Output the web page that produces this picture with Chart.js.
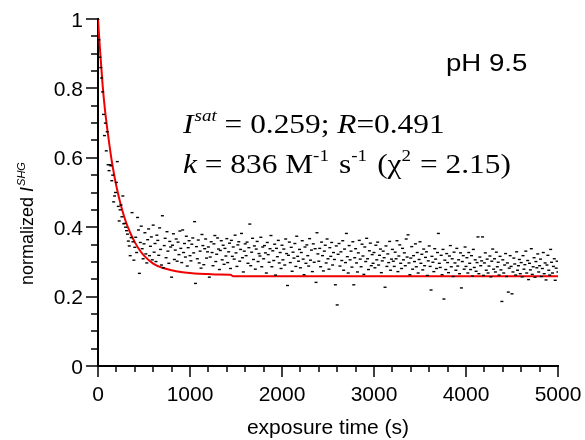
<!DOCTYPE html>
<html>
<head>
<meta charset="utf-8">
<script src="https://cdn.jsdelivr.net/npm/chart.js@4/dist/chart.umd.min.js"></script>
<style>
html,body{margin:0;padding:0;background:#fff;}
#wrap{width:585px;height:440px;position:relative;}
</style>
</head>
<body>
<div id="wrap"><canvas id="c" width="585" height="440"></canvas></div>
<script>
// ---- data ----
const sampleStep = 10; // s between measured points
const signalRows = [
  [1.00,0.94,0.89,0.86,0.83,0.79,0.725,0.664,0.70,0.62,0.675,0.58,0.563,0.58,0.577,0.534,0.55,0.473,0.49,0.50],
  [0.529,0.589,0.46,0.418,0.45,0.464,0.43,0.49,0.41,0.411,0.40,0.39,0.38,0.36,0.346,0.318,0.37,0.442,0.358,0.305],
  [0.342,0.371,0.327,0.428,0.392,0.267,0.356,0.403,0.338,0.309,0.352,0.384,0.323,0.297,0.364,0.395,0.318,0.345,0.372,0.306],
  [0.406,0.328,0.353,0.301,0.377,0.362,0.319,0.398,0.336,0.291,0.433,0.283,0.347,0.368,0.312,0.387,0.331,0.296,0.359,0.343],
  [0.256,0.348,0.381,0.307,0.334,0.366,0.302,0.357,0.321,0.389,0.339,0.298,0.392,0.327,0.353,0.314,0.374,0.288,0.341,0.361],
  [0.318,0.303,0.351,0.369,0.326,0.416,0.238,0.344,0.309,0.363,0.297,0.331,0.282,0.379,0.347,0.292,0.338,0.366,0.311,0.329],
  [0.343,0.256,0.314,0.358,0.327,0.289,0.352,0.376,0.301,0.322,0.369,0.337,0.278,0.333,0.361,0.306,0.348,0.293,0.339,0.317],
  [0.367,0.298,0.329,0.354,0.281,0.362,0.316,0.343,0.308,0.377,0.326,0.287,0.349,0.358,0.302,0.336,0.382,0.312,0.271,0.331],
  [0.352,0.318,0.357,0.296,0.341,0.409,0.289,0.328,0.368,0.307,0.346,0.279,0.337,0.359,0.301,0.324,0.317,0.371,0.286,0.343],
  [0.309,0.347,0.326,0.268,0.356,0.321,0.299,0.338,0.376,0.286,0.332,0.304,0.351,0.262,0.339,0.315,0.362,0.297,0.327,0.281],
  [0.348,0.306,0.337,0.291,0.366,0.324,0.232,0.319,0.357,0.298,0.342,0.273,0.328,0.311,0.353,0.287,0.374,0.316,0.302,0.336],
  [0.283,0.327,0.361,0.308,0.263,0.343,0.296,0.349,0.318,0.288,0.367,0.305,0.334,0.272,0.352,0.299,0.338,0.241,0.384,0.323],
  [0.302,0.339,0.286,0.357,0.318,0.274,0.331,0.348,0.297,0.366,0.309,0.279,0.341,0.316,0.356,0.291,0.327,0.307,0.234,0.346],
  [0.176,0.322,0.353,0.288,0.329,0.304,0.361,0.276,0.337,0.298,0.382,0.315,0.268,0.347,0.306,0.331,0.285,0.358,0.234,0.312],
  [0.338,0.297,0.271,0.326,0.362,0.308,0.286,0.351,0.317,0.264,0.343,0.301,0.368,0.309,0.278,0.332,0.354,0.289,0.321,0.296],
  [0.327,0.283,0.348,0.306,0.357,0.291,0.319,0.337,0.269,0.303,0.331,0.312,0.227,0.346,0.287,0.323,0.298,0.359,0.276,0.308],
  [0.336,0.302,0.287,0.328,0.309,0.361,0.272,0.317,0.349,0.296,0.281,0.339,0.306,0.326,0.289,0.366,0.314,0.378,0.297,0.263],
  [0.311,0.344,0.279,0.318,0.301,0.352,0.286,0.327,0.268,0.307,0.358,0.296,0.322,0.277,0.337,0.289,0.313,0.329,0.261,0.303],
  [0.346,0.287,0.219,0.316,0.299,0.272,0.338,0.308,0.281,0.327,0.382,0.296,0.284,0.319,0.263,0.336,0.193,0.305,0.278,0.324],
  [0.298,0.269,0.317,0.347,0.286,0.309,0.258,0.328,0.297,0.276,0.339,0.288,0.306,0.266,0.326,0.225,0.301,0.318,0.279,0.343],
  [0.287,0.312,0.268,0.327,0.296,0.278,0.318,0.259,0.336,0.284,0.306,0.273,0.298,0.372,0.266,0.314,0.289,0.303,0.372,0.261],
  [0.297,0.326,0.276,0.308,0.268,0.288,0.317,0.257,0.302,0.337,0.279,0.309,0.271,0.328,0.286,0.299,0.262,0.316,0.277,0.186],
  [0.306,0.268,0.291,0.324,0.258,0.297,0.213,0.282,0.318,0.287,0.208,0.271,0.311,0.294,0.262,0.329,0.276,0.289,0.307,0.266],
  [0.298,0.257,0.318,0.279,0.292,0.331,0.268,0.304,0.249,0.296,0.277,0.338,0.264,0.286,0.312,0.256,0.301,0.283,0.323,0.271],
  [0.289,0.308,0.258,0.281,0.327,0.266,0.297,0.248,0.291,0.319,0.276,0.262,0.336,0.299,0.268,0.287,0.309,0.247,0.282,0.302],
  [0.271]
];
const fitTimes  = [0,25,50,75,100,125,150,175,200,250,300,350,400,450,500,600,700,800,900,1000,1100,1200,1300,1440,1470,2000,3000,4000,5000];
const fitValues = [1.0,0.90,0.81,0.74,0.685,0.635,0.59,0.552,0.518,0.462,0.418,0.384,0.357,0.335,0.318,0.295,0.283,0.276,0.271,0.268,0.266,0.265,0.264,0.263,0.259,0.259,0.259,0.259,0.259];
const xMajorTicks = [0,1000,2000,3000,4000,5000];
const xMinorStep = 200;
const yMajorTicks = [0,0.2,0.4,0.6,0.8,1];
const yMinorStep = 0.05;
const xTickLabels = ["0","1000","2000","3000","4000","5000"];
const yTickLabels = ["0","0.2","0.4","0.6","0.8","1"];

// ---- build datasets ----
const signalValues = signalRows.flat();
const signalPoints = signalValues.map((v,i)=>({x:i*sampleStep, y:v}));
const fitPoints = fitTimes.map((t,i)=>({x:t, y:fitValues[i]}));

const SANS = '"Liberation Sans", Arial, sans-serif';
const SERIF = '"Liberation Serif", "Times New Roman", serif';

function drawRuns(ctx, runs, x, y, sx){
  ctx.save();
  ctx.translate(x,y);
  ctx.scale(sx||1,1);
  let cx = 0;
  for(const r of runs){
    ctx.font = r.font;
    ctx.fillText(r.t, cx, r.dy||0);
    cx += ctx.measureText(r.t).width + (r.gap||0);
  }
  ctx.restore();
}

const decor = {
  id:'decor',
  afterDraw(chart){
    const ctx = chart.ctx;
    const xs = chart.scales.x, ys = chart.scales.y;
    const a = chart.chartArea;
    ctx.save();
    ctx.strokeStyle = '#000';
    ctx.fillStyle = '#000';
    ctx.lineWidth = 1.5;
    // x ticks
    for(let v = 0; v <= 5000; v += xMinorStep){
      const px = Math.round(xs.getPixelForValue(v));
      const major = xMajorTicks.includes(v);
      ctx.beginPath();
      ctx.moveTo(px, a.bottom);
      ctx.lineTo(px, a.bottom + (major ? 11 : 6));
      ctx.stroke();
    }
    // y ticks
    for(let k = 0; k <= 20; k++){
      const v = k*yMinorStep;
      const py = Math.round(ys.getPixelForValue(v));
      const major = (k % 4) === 0;
      ctx.beginPath();
      ctx.moveTo(a.left, py);
      ctx.lineTo(a.left - (major ? 12 : 7), py);
      ctx.stroke();
    }
    // tick labels
    ctx.font = '21px ' + SANS;
    ctx.textBaseline = 'alphabetic';
    ctx.textAlign = 'center';
    xMajorTicks.forEach((v,i)=>{
      ctx.fillText(xTickLabels[i], xs.getPixelForValue(v), 401);
    });
    ctx.textAlign = 'right';
    yMajorTicks.forEach((v,i)=>{
      ctx.fillText(yTickLabels[i], a.left - 15, ys.getPixelForValue(v) + 7.5);
    });
    // x title
    ctx.textAlign = 'center';
    ctx.font = '21px ' + SANS;
    ctx.fillText('exposure time (s)', (a.left + a.right)/2, 434);
    // y title (rotated)
    ctx.save();
    ctx.translate(33, 285);
    ctx.rotate(-Math.PI/2);
    ctx.textAlign = 'left';
    drawRuns(ctx, [
      {t:'normalized ', font:'18px ' + SANS},
      {t:'I', font:'italic 18px ' + SANS, gap:1},
      {t:'SHG', font:'italic 11px ' + SANS, dy:-8}
    ], 0, 0, 1);
    ctx.restore();
    // annotations
    ctx.textAlign = 'left';
    drawRuns(ctx, [{t:'pH 9.5', font:'24px ' + SANS}], 446, 71, 1.15);
    drawRuns(ctx, [
      {t:'I', font:'italic 28px ' + SERIF, gap:1},
      {t:'sat', font:'italic 17px ' + SERIF, dy:-12},
      {t:' = 0.259; ', font:'28px ' + SERIF},
      {t:'R', font:'italic 28px ' + SERIF},
      {t:'=0.491', font:'28px ' + SERIF}
    ], 183, 133, 1.12);
    drawRuns(ctx, [
      {t:'k', font:'italic 28px ' + SERIF},
      {t:' = 836 M', font:'28px ' + SERIF},
      {t:'-1', font:'17px ' + SERIF, dy:-12, gap:2},
      {t:' s', font:'28px ' + SERIF},
      {t:'-1', font:'17px ' + SERIF, dy:-12, gap:2},
      {t:' (\u03C7', font:'28px ' + SERIF},
      {t:'2', font:'17px ' + SERIF, dy:-12, gap:1},
      {t:' = 2.15)', font:'28px ' + SERIF}
    ], 183, 173, 1.12);
    ctx.restore();
  }
};

new Chart(document.getElementById('c'), {
  type:'scatter',
  data:{
    datasets:[
      {
        label:'data',
        data:signalPoints,
        showLine:false,
        pointStyle:'line',
        pointRadius:1.5,
        pointBorderWidth:1.4,
        borderColor:'#000',
        backgroundColor:'#000',
        pointHoverRadius:1.5
      },
      {
        label:'fit',
        data:fitPoints,
        showLine:true,
        borderColor:'#f00000',
        borderWidth:2,
        pointRadius:0,
        cubicInterpolationMode:'monotone',
        fill:false
      }
    ]
  },
  options:{
    responsive:false,
    animation:false,
    devicePixelRatio:1,
    layout:{padding:{left:0,right:27,top:19,bottom:0}},
    plugins:{legend:{display:false},tooltip:{enabled:false}},
    scales:{
      x:{
        type:'linear', min:0, max:5000,
        grid:{display:false, drawTicks:false},
        border:{display:true, color:'#000', width:2},
        ticks:{display:false},
        afterFit(s){ s.height = 74; }
      },
      y:{
        type:'linear', min:0, max:1,
        grid:{display:false, drawTicks:false},
        border:{display:true, color:'#000', width:2},
        ticks:{display:false},
        afterFit(s){ s.width = 98; }
      }
    }
  },
  plugins:[decor]
});
</script>
</body>
</html>
